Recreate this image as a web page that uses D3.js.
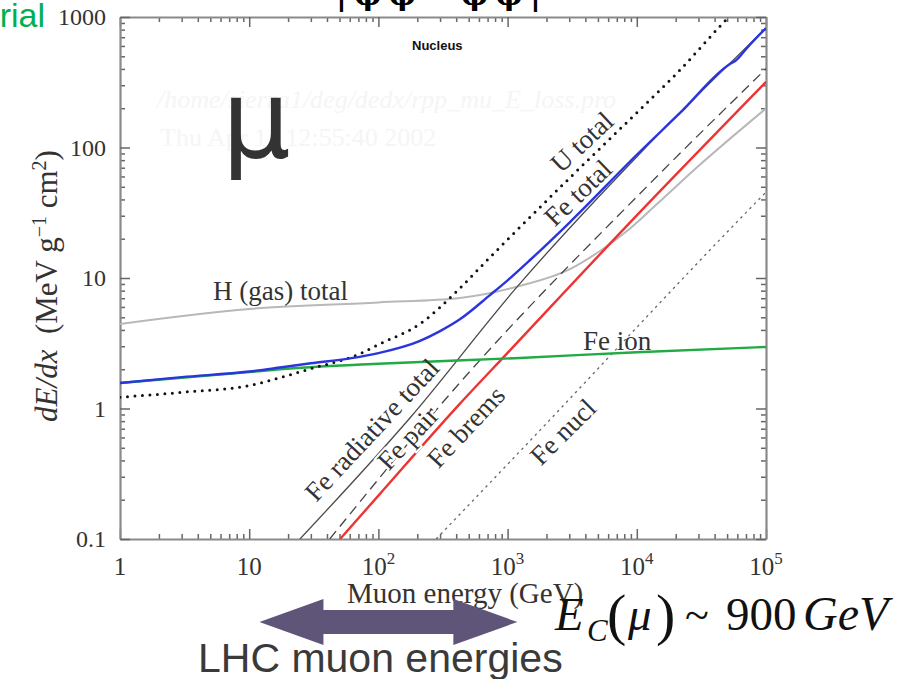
<!DOCTYPE html>
<html><head><meta charset="utf-8">
<script src="https://cdn.jsdelivr.net/npm/d3@7/dist/d3.min.js"></script>
<style>body{margin:0;background:#fff;} svg{display:block}</style>
</head><body><svg id="c" width="922" height="679"></svg>
<script>
// ---- data ----
const energyDomain = [1, 1e5];
const dedxDomain = [0.1, 1000];
const xMajor = [1, 10, 100, 1000, 10000, 100000];
const xMajorBase = ["1", "10", "10", "10", "10", "10"];
const xMajorExp = ["", "", "2", "3", "4", "5"];
const yMajor = [0.1, 1, 10, 100, 1000];
const yMajorLabels = ["0.1", "1", "10", "100", "1000"];

const feTotalE = [1, 3, 10, 17.3, 30, 60, 100, 210, 300, 430, 730, 1000, 1500, 3000, 10000, 21600, 52600, 58000, 71000, 100000];
const feTotalV = [1.57, 1.74, 1.92, 2.06, 2.22, 2.42, 2.66, 3.3, 3.92, 4.85, 7.4, 9.6, 13.8, 26.5, 88, 184, 436, 462, 578, 824];

const uTotalE = [1, 3, 10, 17.3, 30, 72, 100, 210, 430, 700, 1040, 3000, 10000, 20500, 46500, 100000];
const uTotalV = [1.22, 1.33, 1.5, 1.72, 2.02, 2.63, 3.09, 4.46, 8.4, 13.8, 20.5, 58, 185, 372, 900, 1950];

const hGasE = [1, 10, 100, 428, 1247, 3040, 5190, 8400, 14400, 30000, 100000];
const hGasV = [4.45, 5.79, 6.5, 7.03, 8.7, 11.7, 16.1, 22.9, 37, 72, 199];

const feIonE = [1, 10, 17.3, 100, 1247, 10000, 100000];
const feIonV = [1.57, 1.9, 2.0, 2.2, 2.44, 2.7, 2.96];

const feRadE = [24.7, 176, 1202, 10000, 100000];
const feRadV = [0.1, 0.85, 8.7, 85, 820];

const fePairE = [42, 428, 12650, 100000];
const fePairV = [0.1, 1.58, 53, 401];

const feBremsE = [50.5, 100, 428, 1000, 10000, 100000];
const feBremsV = [0.1, 0.215, 1.09, 2.67, 30.2, 318];

const feNuclE = [280, 1247, 85200, 100000];
const feNuclV = [0.1, 0.47, 38.7, 45.5];

const arrowRange = [12, 1190];

// ---- drawing ----
const svg = d3.select("#c");
const x = d3.scaleLog().domain(energyDomain).range([120, 766]);
const y = d3.scaleLog().domain(dedxDomain).range([539, 17]);
const serif = "'Liberation Serif','Times New Roman',serif";
const sans = "'Liberation Sans',Arial,sans-serif";

// top decorations
svg.append("text").attr("x", 45).attr("y", 27).attr("text-anchor", "end")
  .style("font-family", sans).style("font-size", "34px").attr("fill", "#00b050").text("rial");
svg.append("text").attr("x", 336).attr("y", 5).attr("textLength", 205)
  .style("font-family", "'DejaVu Serif',serif").style("font-weight", "bold").style("font-size", "30px")
  .attr("fill", "#000").text("|φφ-  φφ|");

// watermark
svg.append("text").attr("x", 157).attr("y", 108).style("font-family", serif).style("font-style", "italic")
  .style("font-size", "26px").attr("fill", "#f5f5f5").text("/home/sierra1/deg/dedx/rpp_mu_E_loss.pro");
svg.append("text").attr("x", 160).attr("y", 146).style("font-family", serif)
  .style("font-size", "26px").attr("fill", "#f5f5f5").text("Thu Apr 11 12:55:40 2002");

// clip
svg.append("clipPath").attr("id", "plot").append("rect")
  .attr("x", 120).attr("y", 17).attr("width", 646).attr("height", 522);

// axes
const xMinor = [], yMinor = [];
[1, 10, 100, 1000, 10000].forEach(d => { for (let k = 2; k <= 9; k++) xMinor.push(d * k); });
[0.1, 1, 10, 100].forEach(d => { for (let k = 2; k <= 9; k++) yMinor.push(d * k); });

function ax(make, scale, tr, minor, major) {
  const g1 = svg.append("g").attr("transform", tr)
    .call(make(scale).tickValues(minor).tickSizeInner(-5).tickSizeOuter(0).tickFormat(""));
  const g2 = svg.append("g").attr("transform", tr)
    .call(make(scale).tickValues(major).tickSizeInner(-10).tickSizeOuter(0).tickFormat(""));
  g1.select(".domain").remove();
  g2.select(".domain").attr("stroke", "#8a8a8a").attr("stroke-width", 2.2);
  [g1, g2].forEach(g => g.selectAll(".tick line").attr("stroke", "#666").attr("stroke-width", 1.5));
}
ax(d3.axisBottom, x, "translate(0,539)", xMinor, xMajor);
ax(d3.axisTop, x, "translate(0,17)", xMinor, xMajor);
ax(d3.axisLeft, y, "translate(120,0)", yMinor, yMajor);
ax(d3.axisRight, y, "translate(766,0)", yMinor, yMajor);

// tick labels
svg.append("g").selectAll("text").data(yMajor).join("text")
  .attr("x", 106).attr("y", d => y(d)).attr("dy", "0.35em").attr("text-anchor", "end")
  .style("font-family", serif).style("font-size", "24px").attr("fill", "#333")
  .text((d, i) => yMajorLabels[i]);
const xl = svg.append("g").selectAll("text").data(xMajor).join("text")
  .attr("x", d => x(d)).attr("y", 575).attr("text-anchor", "middle")
  .style("font-family", serif).style("font-size", "25px").attr("fill", "#333");
xl.append("tspan").text((d, i) => xMajorBase[i]);
xl.append("tspan").attr("dy", -11).style("font-size", "17px").text((d, i) => xMajorExp[i]);

// axis titles
svg.append("text").attr("x", 347).attr("y", 603)
  .style("font-family", serif).style("font-size", "29px").attr("fill", "#333").text("Muon energy (GeV)");
const yt = svg.append("text").attr("transform", "translate(57,286) rotate(-90)").attr("text-anchor", "middle")
  .style("font-family", serif).style("font-size", "31px").attr("fill", "#333");
yt.append("tspan").style("font-style", "italic").text("dE/dx");
yt.append("tspan").text("\u00a0\u00a0(MeV g");
yt.append("tspan").attr("dy", -11).style("font-size", "20px").text("\u22121");
yt.append("tspan").attr("dy", 11).text(" cm");
yt.append("tspan").attr("dy", -11).style("font-size", "20px").text("2");
yt.append("tspan").attr("dy", 11).text(")");

// curves
const line = d3.line().x(d => x(d[0])).y(d => y(d[1])).curve(d3.curveMonotoneX);
const curves = svg.append("g").attr("clip-path", "url(#plot)");
function curve(E, V, style) {
  const p = curves.append("path").datum(E.map((e, i) => [e, V[i]])).attr("d", line)
    .attr("fill", "none");
  Object.entries(style).forEach(([k, v]) => p.attr(k, v));
}
curve(hGasE, hGasV, {stroke: "#b8b8b8", "stroke-width": 2});
curve(feNuclE, feNuclV, {stroke: "#666", "stroke-width": 1.3, "stroke-dasharray": "2.5,4"});
curve(feRadE, feRadV, {stroke: "#4a4a4a", "stroke-width": 1.3});
curve(fePairE, fePairV, {stroke: "#444", "stroke-width": 1.3, "stroke-dasharray": "10,6"});
curve(feBremsE, feBremsV, {stroke: "#ee3333", "stroke-width": 2.4});
curve(feIonE, feIonV, {stroke: "#22aa44", "stroke-width": 2.4});
curve(uTotalE, uTotalV, {stroke: "#111", "stroke-width": 3, "stroke-dasharray": "0,7.5", "stroke-linecap": "round"});
curve(feTotalE, feTotalV, {stroke: "#2b35dd", "stroke-width": 2.4});

// curve labels
const lab = (t, xx, yy, rot, halo) => {
  const el = svg.append("text")
    .attr("transform", `translate(${xx},${yy}) rotate(${rot})`).attr("text-anchor", "middle")
    .attr("dominant-baseline", "central")
    .style("font-family", serif).style("font-size", "27px").attr("fill", "#333").text(t);
  if (halo) el.attr("stroke", "#fff").attr("stroke-width", 4).attr("paint-order", "stroke");
};
svg.append("text").attr("x", 213).attr("y", 300).style("font-family", serif).style("font-size", "27px")
  .attr("fill", "#333").text("H (gas) total");
svg.append("text").attr("x", 583).attr("y", 350).style("font-family", serif).style("font-size", "27px")
  .attr("fill", "#333").text("Fe ion");
lab("U total", 582, 142, -43);
lab("Fe total", 578, 193, -44);
lab("Fe radiative total", 372, 430, -47);
lab("Fe pair", 408, 438, -47, true);
lab("Fe brems", 466, 427, -47);
lab("Fe nucl", 563, 432, -45);

svg.append("text").attr("x", 412).attr("y", 50).style("font-family", sans).style("font-weight", "bold")
  .style("font-size", "13px").attr("fill", "#111").text("Nucleus");

// mu symbol
svg.append("text").attr("x", 222).attr("y", 157).style("font-family", "'DejaVu Sans',sans-serif")
  .style("font-size", "108px").attr("fill", "#333").text("\u03bc");

// arrow
const ax0 = x(arrowRange[0]), ax1 = x(arrowRange[1]), cy = 622, hl = 64, sh = 12, hh = 23;
svg.append("path").attr("fill", "#5e5578").attr("d",
  `M${ax0},${cy} L${ax0 + hl},${cy - hh} L${ax0 + hl},${cy - sh} L${ax1 - hl},${cy - sh} L${ax1 - hl},${cy - hh}
   L${ax1},${cy} L${ax1 - hl},${cy + hh} L${ax1 - hl},${cy + sh} L${ax0 + hl},${cy + sh} L${ax0 + hl},${cy + hh} Z`);
svg.append("text").attr("x", 198).attr("y", 672).style("font-family", sans).style("font-size", "41px")
  .attr("fill", "#3a3a3a").text("LHC muon energies");

// critical energy formula
const ec = svg.append("g").style("font-family", serif).attr("fill", "#111");
ec.append("text").attr("x", 555).attr("y", 630).style("font-size", "47px").style("font-style", "italic").text("E");
ec.append("text").attr("x", 587).attr("y", 641).style("font-size", "31px").style("font-style", "italic").text("C");
ec.append("text").attr("x", 607).attr("y", 634).style("font-size", "58px").text("(");
ec.append("text").attr("x", 628).attr("y", 630).style("font-size", "47px").style("font-style", "italic").text("\u03bc");
ec.append("text").attr("x", 656).attr("y", 634).style("font-size", "58px").text(")");
ec.append("text").attr("x", 685).attr("y", 630).style("font-size", "44px").text("~");
ec.append("text").attr("x", 726).attr("y", 630).style("font-size", "47px").text("900");
ec.append("text").attr("x", 803).attr("y", 630).style("font-size", "48px").style("font-style", "italic").text("GeV");
</script></body></html>
